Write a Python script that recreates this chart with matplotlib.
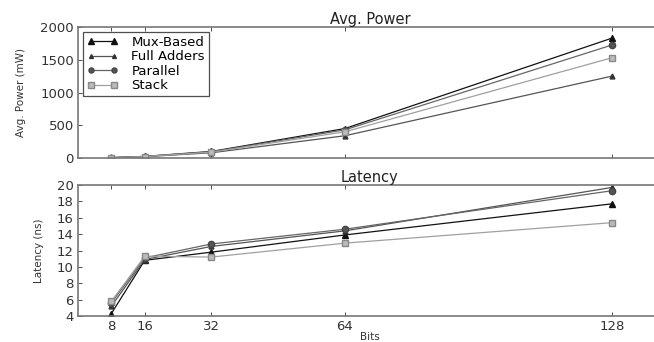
import matplotlib
matplotlib.use("Agg")
import matplotlib.pyplot as plt

bits = [8, 16, 32, 64, 128]
series = ["Mux-Based", "Full Adders", "Parallel", "Stack"]
power_mux = [6, 25, 100, 450, 1830]
power_fa = [5, 20, 80, 340, 1250]
power_par = [5, 22, 95, 430, 1725]
power_stack = [5, 22, 90, 400, 1530]
lat_mux = [4.3, 10.8, 11.8, 13.9, 17.7]
lat_fa = [5.2, 10.9, 12.5, 14.4, 19.7]
lat_par = [5.6, 11.1, 12.8, 14.6, 19.3]
lat_stack = [5.8, 11.3, 11.2, 12.9, 15.4]

styles = {
    "Mux-Based": dict(color="#111111", marker="^", ms=5, mfc="#111111", mec="#111111"),
    "Full Adders": dict(color="#555555", marker="^", ms=3.5, mfc="#333333", mec="#333333"),
    "Parallel": dict(color="#666666", marker="o", ms=4.5, mfc="#555555", mec="#444444"),
    "Stack": dict(color="#a0a0a0", marker="s", ms=5, mfc="#bbbbbb", mec="#888888"),
}

plt.rcParams['font.family'] = ['DejaVu Sans']
fig = plt.figure(figsize=(6.54, 3.42), dpi=100)
W, H = 654, 342
left = 78 / W
width = (662 - 78) / W
ax1 = fig.add_axes([left, 1 - 158 / H, width, 131 / H])
ax2 = fig.add_axes([left, 1 - 316 / H, width, 131 / H])

for name, vals in zip(series, [power_mux, power_fa, power_par, power_stack]):
    ax1.plot(bits, vals, lw=0.9, label=name, **styles[name])
for name, vals in zip(series, [lat_mux, lat_fa, lat_par, lat_stack]):
    ax2.plot(bits, vals, lw=0.9, label=name, **styles[name])

for ax in (ax1, ax2):
    ax.set_xlim(0, 140)
    ax.set_xticks(bits)
    ax.tick_params(direction="in", top=True, right=True, length=3, width=0.6,
                   labelsize=9.5, colors="#333333", pad=3)
    for s in ax.spines.values():
        s.set_color("#777777")
        s.set_linewidth(1.2)

ax1.set_ylim(0, 2000)
ax1.set_yticks([0, 500, 1000, 1500, 2000])
ax1.set_xticklabels([])
ax1.set_title("Avg. Power", fontsize=10.5, pad=2, color="#222222")
ax1.set_ylabel("Avg. Power (mW)", fontsize=7.5, color="#333333", labelpad=10)

ax2.set_ylim(4, 20)
ax2.set_yticks(range(4, 21, 2))
ax2.set_title("Latency", fontsize=10.5, pad=2, color="#222222")
ax2.set_ylabel("Latency (ns)", fontsize=7.5, color="#333333", labelpad=9)
ax2.set_xlabel("Bits", fontsize=7.5, color="#333333")
ax2.xaxis.set_label_coords(0.5, -0.125)

leg = ax1.legend(loc="upper left", numpoints=2, fontsize=9.5, fancybox=False,
                 frameon=True, borderpad=0.3, labelspacing=0.12, handlelength=2.4,
                 handletextpad=1.0, borderaxespad=0.35, markerscale=0.8)
leg.get_frame().set_edgecolor("#222222")
leg.get_frame().set_linewidth(0.9)

fig.savefig("out.png", dpi=100)
